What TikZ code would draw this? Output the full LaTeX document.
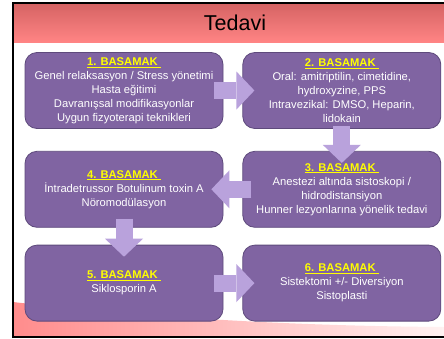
\documentclass[tikz,border=0pt]{standalone}
\usepackage{fontspec}
\setmainfont{Liberation Sans}
\usepackage{tikz}
\usetikzlibrary{arrows.meta, positioning}
\definecolor{kutuDolgu}{HTML}{8064A2}
\definecolor{kutuKenar}{HTML}{5E4A7C}
\definecolor{okDolgu}{HTML}{B9A2DC}
\definecolor{baslikSari}{HTML}{FFFF00}
\definecolor{bantUst}{HTML}{D66464}
\definecolor{bantAlt}{HTML}{FF8484}
\definecolor{dalgaSol}{HTML}{FF8C8C}
\definecolor{dalgaSag}{HTML}{FFF2F2}
\newcommand{\basamak}[1]{{\color{baslikSari}\underline{\textbf{#1. BASAMAK}\ }}}

\begin{document}
\begin{tikzpicture}[x=1pt, y=-1pt,
        node distance=19pt,
        k/.style={draw=kutuKenar, fill=kutuDolgu, line width=0.8pt, rounded corners=12pt,
            minimum width=198pt, minimum height=76pt, inner sep=2pt, align=center,
            text=white, font=\fontsize{11.2}{14}\selectfont},
        ok/.style={okDolgu, line width=17pt, shorten <=-9pt, shorten >=-12pt,
            -{Triangle[length=18pt, width=38pt, line width=0pt]}}
    ]
        \useasboundingbox (0,0) rectangle (444,338);
        \fill[white] (0,0) rectangle (444,338);
        \shade[top color=bantUst, bottom color=bantAlt] (12,4) rectangle (444,42);
        \shade[left color=dalgaSol, right color=dalgaSag] (13,302) .. controls (150,318) and (300,326) .. (444,327) -- (444,336) -- (13,336) -- cycle;
        \draw[line width=2pt] (13,338) -- (13,3) -- (444,3);
        \draw[line width=2pt] (13,336.5) -- (444,336.5);
        \node[font=\fontsize{21.5}{24}\selectfont] (baslik) at (235,23) {Tedavi};
        \node[k] (b1) at (124,90.5) {\basamak{1}\\Genel relaksasyon / Stress yönetimi\\Hasta eğitimi\\Davranışsal modifikasyonlar\\Uygun fizyoterapi teknikleri};
        \node[k, right=of b1] (b2) {\basamak{2}\\Oral: amitriptilin, cimetidine,\\hydroxyzine, PPS\\Intravezikal: DMSO, Heparin,\\lidokain};
        \node[k, below=22pt of b2] (b3) {\basamak{3}\\Anestezi altında sistoskopi /\\hidrodistansiyon\\Hunner lezyonlarına yönelik tedavi};
        \node[k, left=of b3] (b4) {\basamak{4}\\İntradetrussor Botulinum toxin A\\Nöromodülasyon};
        \node[k, below=17pt of b4] (b5) {\basamak{5}\\Siklosporin A};
        \node[k, right=of b5] (b6) {\basamak{6}\\Sistektomi +/- Diversiyon\\Sistoplasti};
        \draw[ok] (b1.east) -- (b2.west);
        \draw[ok, shorten <=-3pt] (b2.south) -- (b3.north);
        \draw[ok] (b3.west) -- (b4.east);
        \draw[ok] (b4.south) -- (b5.north);
        \draw[ok] (b5.east) -- (b6.west);
    \end{tikzpicture}
\end{document}
